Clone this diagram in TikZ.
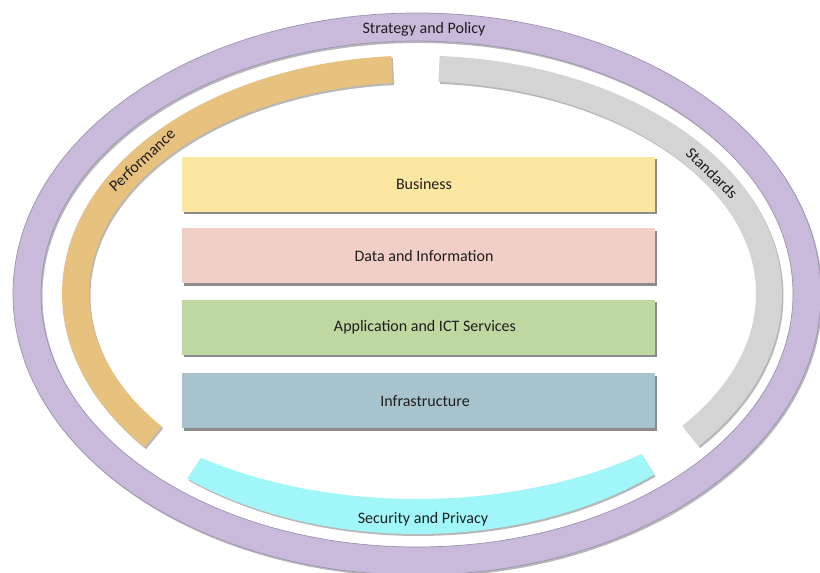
\documentclass[tikz,border=0pt]{standalone}
\usepackage{fontspec}
\setmainfont{Carlito}
\usetikzlibrary{calc,shadows}
\definecolor{ringpurple}{RGB}{201,186,219}
\definecolor{ringedge}{RGB}{160,145,180}
\definecolor{perforange}{RGB}{231,193,126}
\definecolor{stdgrey}{RGB}{212,212,212}
\definecolor{seccyan}{RGB}{160,246,248}
\definecolor{busyellow}{RGB}{251,231,160}
\definecolor{datapink}{RGB}{242,207,198}
\definecolor{appgreen}{RGB}{191,216,161}
\definecolor{infrablue}{RGB}{167,196,206}
\definecolor{txt}{RGB}{30,30,30}
\begin{document}
\begin{tikzpicture}[x=1pt,y=1pt,
  lbl/.style={font=\fontsize{16}{19}\selectfont, text=txt, inner sep=0pt},
  layerbox/.style={minimum width=473pt, minimum height=55pt, inner sep=0pt, outer sep=0pt,
    drop shadow={shadow xshift=2pt, shadow yshift=-2.5pt, opacity=0.6, fill=black!75}},
  bandshadow/.style={black, opacity=0.28},
]
\fill[white] (0,0) rectangle (820,573);
\useasboundingbox (0,0) rectangle (820,573);
\begin{scope}
\clip (0,0) rectangle (820,573);
% outer purple ring (Strategy and Policy)
\fill[bandshadow, even odd rule] (418.5,277) ellipse[x radius=404pt, y radius=281pt]
  (418.5,277) ellipse[x radius=376pt, y radius=253pt];
\fill[ringpurple, even odd rule] (417,279) ellipse[x radius=404pt, y radius=281pt]
  (417,279) ellipse[x radius=376pt, y radius=253pt];
\draw[ringedge, line width=0.7pt] (417,279) ellipse[x radius=404pt, y radius=281pt]
  (417,279) ellipse[x radius=376pt, y radius=253pt];
\end{scope}
% Performance arc
\draw[bandshadow, line width=27pt] (418.5,277) ++(94.2:341.5pt and 225pt)
  arc[start angle=94.2, end angle=219.4, x radius=341.5pt, y radius=225pt];
\draw[perforange, line width=27pt] (417,279) ++(94.2:341.5pt and 225pt)
  arc[start angle=94.2, end angle=219.4, x radius=341.5pt, y radius=225pt];
% Standards arc
\draw[bandshadow, line width=26pt] (418.5,277) ++(86.4:352pt and 225.5pt)
  arc[start angle=86.4, end angle=-39, x radius=352pt, y radius=225.5pt];
\draw[stdgrey, line width=26pt] (417,279) ++(86.4:352pt and 225.5pt)
  arc[start angle=86.4, end angle=-39, x radius=352pt, y radius=225.5pt];
% Security and Privacy crescent
\fill[bandshadow] (418.5,277) ++(230.3:360pt and 240pt)
  arc[start angle=230.3, end angle=311.2, x radius=360pt, y radius=240pt]
  -- ($(418.5,277)+(308.7:359pt and 205pt)$)
  arc[start angle=308.7, end angle=233, x radius=359pt, y radius=205pt] -- cycle;
\fill[seccyan] (417,279) ++(230.3:360pt and 240pt)
  arc[start angle=230.3, end angle=311.2, x radius=360pt, y radius=240pt]
  -- ($(417,279)+(308.7:359pt and 205pt)$)
  arc[start angle=308.7, end angle=233, x radius=359pt, y radius=205pt] -- cycle;
% layer boxes
\node[layerbox, fill=busyellow] (bus) at (418.5,388.5) {};
\node[layerbox, fill=datapink] (data) at (418.5,317) {};
\node[layerbox, fill=appgreen] (app) at (418.5,245.5) {};
\node[layerbox, fill=infrablue] (infra) at (418.5,172) {};
\node[lbl] (tbus) at (424,388.5) {Business};
\node[lbl] (tdata) at (424,317) {Data and Information};
\node[lbl] (tapp) at (425,245.5) {Application and ICT Services};
\node[lbl] (tinfra) at (425,172) {Infrastructure};
% band labels
\node[lbl] (tstrat) at (424,544) {Strategy and Policy};
\node[lbl] (tsec) at (423,54) {Security and Privacy};
\node[lbl, rotate=43] (tperf) at (142,413) {Performance};
\node[lbl, rotate=-44] (tstd) at (712,400) {Standards};
\end{tikzpicture}
\end{document}
